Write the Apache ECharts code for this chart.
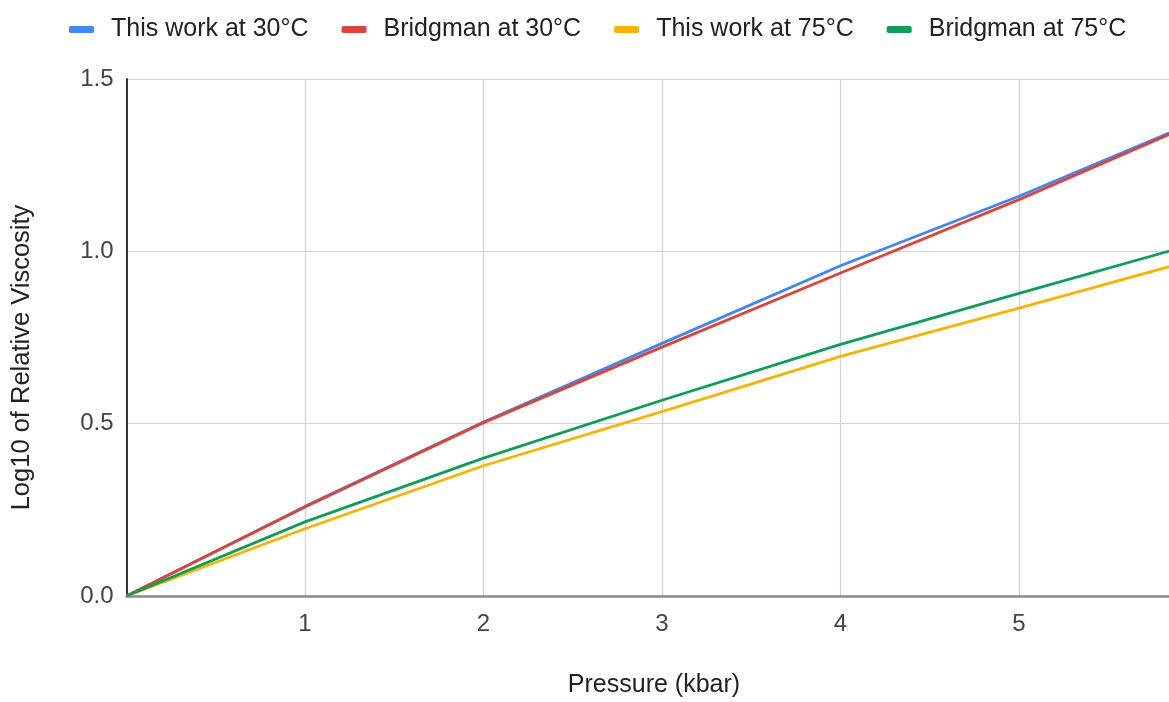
<!DOCTYPE html>
<html>
<head>
<meta charset="utf-8">
<script src="https://cdn.jsdelivr.net/npm/echarts@6/dist/echarts.min.js"></script>
<style>
html,body{margin:0;padding:0;background:#fff;}
#chart{width:1169px;height:702px;}
</style>
</head>
<body>
<div id="chart"></div>
<script>
// Pressure (kbar)
const pressure = [0, 1, 2, 3, 4, 5, 6];
// Log10 of relative viscosity
const thisWork30 = [0, 0.260, 0.505, 0.733, 0.958, 1.160, 1.378];
const bridgman30 = [0, 0.258, 0.503, 0.722, 0.937, 1.150, 1.375];
const thisWork75 = [0, 0.195, 0.378, 0.535, 0.695, 0.835, 0.978];
const bridgman75 = [0, 0.215, 0.400, 0.568, 0.730, 0.878, 1.024];
const seriesNames = ['This work at 30°C', 'Bridgman at 30°C', 'This work at 75°C', 'Bridgman at 75°C'];
const yTicks = [0, 0.5, 1.0, 1.5];

const colors = ['#4285F4', '#DB4437', '#F4B400', '#0F9D58'];
const allValues = [thisWork30, bridgman30, thisWork75, bridgman75];
const FONT = '"Liberation Sans", Arial, sans-serif';

const chart = echarts.init(document.getElementById('chart'), null, {renderer: 'canvas'});
chart.setOption({
  backgroundColor: '#ffffff',
  animation: false,
  color: colors,
  textStyle: {fontFamily: FONT},
  legend: {
    left: 64,
    top: 12,
    icon: 'roundRect',
    itemWidth: 25,
    itemHeight: 7,
    itemGap: 33,
    data: seriesNames,
    textStyle: {fontSize: 25, color: '#222', fontFamily: FONT, padding: [0, 0, 0, 12]}
  },
  grid: {
    left: 126.5,
    right: -28.5,
    top: 79,
    bottom: 106,
    containLabel: false,
    outerBoundsMode: 'none'
  },
  xAxis: {
    type: 'value',
    min: 0,
    max: 6,
    interval: 1,
    name: 'Pressure (kbar)',
    nameLocation: 'middle',
    nameGap: 77,
    nameTextStyle: {fontSize: 25, color: '#222', fontFamily: FONT, padding: [0, 16, 0, 0]},
    axisLine: {show: true, onZero: false, lineStyle: {color: '#8a8a8a', width: 2.5}},
    axisTick: {show: false},
    axisLabel: {
      fontSize: 24, color: '#444', margin: 16, fontFamily: FONT,
      formatter: v => (v === 0 ? '' : String(v))
    },
    splitLine: {show: true, lineStyle: {color: '#d3d3d3', width: 1.2}}
  },
  yAxis: {
    type: 'value',
    min: yTicks[0],
    max: yTicks[yTicks.length - 1],
    interval: 0.5,
    name: 'Log10 of Relative Viscosity',
    nameLocation: 'middle',
    nameRotate: 90,
    nameGap: 92,
    nameTextStyle: {fontSize: 25.5, color: '#222', fontFamily: FONT, padding: [0, 40, 0, 0]},
    axisLine: {show: true, onZero: false, lineStyle: {color: '#333', width: 2}},
    axisTick: {show: false},
    axisLabel: {
      fontSize: 24, color: '#444', margin: 13, fontFamily: FONT,
      formatter: v => v.toFixed(1)
    },
    splitLine: {show: true, lineStyle: {color: '#d3d3d3', width: 1.2}}
  },
  series: seriesNames.map((name, i) => ({
    name: name,
    type: 'line',
    showSymbol: false,
    symbol: 'none',
    smooth: false,
    clip: true,
    lineStyle: {width: 2.8, color: colors[i]},
    itemStyle: {color: colors[i]},
    data: pressure.map((p, j) => [p, allValues[i][j]])
  }))
});
</script>
</body>
</html>
